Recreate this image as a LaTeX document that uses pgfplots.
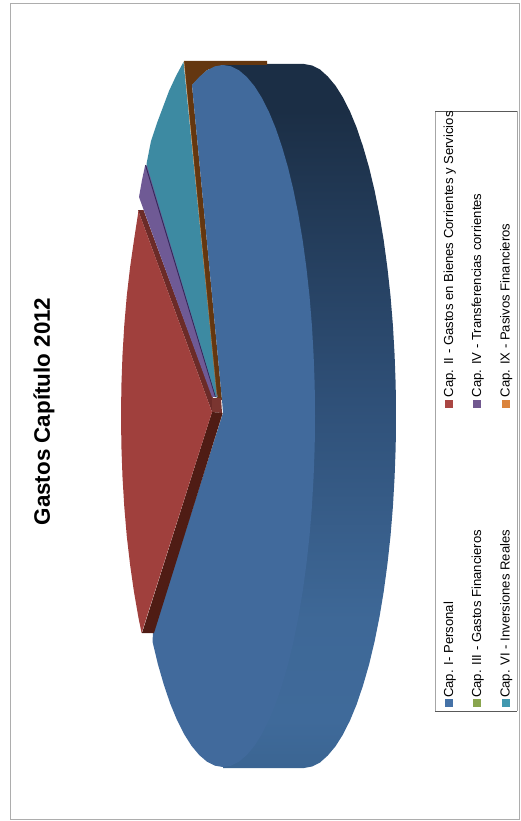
\documentclass[border=0pt]{standalone}
\usepackage{pgfplots}
\pgfplotsset{compat=1.18}
\usepackage{fontspec}
\setmainfont{Liberation Sans}
\definecolor{faceblue}{HTML}{416A9C}
\definecolor{facered}{HTML}{A0403D}
\definecolor{darkred}{HTML}{6B2B28}
\definecolor{darkerred}{HTML}{4F1C14}
\definecolor{blockred}{HTML}{7A3530}
\definecolor{facepurple}{HTML}{6F5A95}
\definecolor{darkpurple}{HTML}{33285A}
\definecolor{faceteal}{HTML}{3D8AA2}
\definecolor{brownside}{HTML}{643710}
\definecolor{thinorange}{HTML}{A5682B}
\definecolor{legblue}{HTML}{4572A7}
\definecolor{legred}{HTML}{AA4643}
\definecolor{leggreen}{HTML}{89A54E}
\definecolor{legpurple}{HTML}{71588F}
\definecolor{legteal}{HTML}{4198AF}
\definecolor{legorange}{HTML}{DB843D}
\definecolor{sidea}{HTML}{1B2E45}
\definecolor{sideb}{HTML}{2F5078}
\definecolor{sidec}{HTML}{3E6897}
\definecolor{sided}{HTML}{3F6A9A}
\definecolor{sidee}{HTML}{3B6592}
\pgfdeclareverticalshading{sideblue}{100bp}{color(0bp)=(sidee); color(25bp)=(sidee); color(28.4bp)=(sided); color(35.5bp)=(sidec); color(51.1bp)=(sideb); color(71.7bp)=(sidea); color(100bp)=(sidea)}
\begin{document}
\begin{tikzpicture}
\path[use as bounding box] (0,0) rectangle (521pt,821pt);
\begin{axis}[
    scale only axis,
    width=521pt,height=821pt,
    xmin=0,xmax=521,ymin=0,ymax=821,
    y dir=reverse,
    hide axis,
    clip=false
]
% outer frame
\addplot[draw=black!32,line width=0.9pt] coordinates {(10,3) (519,3) (519,819) (10,819) (10,3)};
% Cap. I side
\addplot[shading=sideblue,draw=none] coordinates {
(223,64) (304,64) (312,65.5) (320,69.5) (327.8,76.5) (335.5,85.7) (342.9,97.4) (350,111.5) (356.8,128)
(363.1,146.8) (369.1,167.6) (374.5,190.2) (379.4,214.6) (383.7,240.4) (387.4,267.7) (390.5,296) (392.9,325.2)
(394.6,355.1) (395.7,385.4) (396,416) (395.7,446.6) (394.6,476.9) (392.9,506.8) (390.5,536) (387.4,564.3)
(383.7,591.6) (379.4,617.4) (374.5,641.8) (369.1,664.4) (363.1,685.2) (356.8,704) (350,720.5) (342.9,734.6)
(335.5,746.3) (327.8,755.5) (320,762.5) (312,766.5) (304,768) (223,768)
};
% Cap. IX
\addplot[fill=brownside,draw=none] coordinates {
(184,61) (267,61) (267,65) (223,65) (207,70) (192,85) (222,400) (217,400)
};
% Cap. I top
\addplot[fill=faceblue,draw=none] coordinates {
(223,65) (231,66.3) (239,70.3) (246.8,77) (254.5,86.2) (261.9,97.9) (269,112) (275.8,128.5) (282.1,147.1)
(288.1,167.8) (293.5,190.4) (298.4,214.7) (302.7,240.5) (306.4,267.7) (309.5,296) (311.9,325.2) (313.6,355.1)
(314.7,385.4) (315,416) (314.7,446.6) (313.6,476.9) (311.9,506.8) (309.5,536) (306.4,564.3) (302.7,591.5)
(298.4,617.3) (293.5,641.6) (288.1,664.2) (282.1,684.9) (275.8,703.5) (269,720) (261.9,734.1) (254.5,745.8)
(246.8,755) (239,761.7) (231,765.7) (223,767) (215,765.7) (207,761.7) (199.2,755) (191.5,745.8) (184.1,734.1)
(177,720) (170.2,703.5) (163.9,684.9) (157.9,664.2) (152.5,641.6) (153,633) (223,413) (222,400) (192,85)
(199.2,77) (207,70.3) (215,66.3)
};
% Cap. IV
\addplot[fill=darkred,draw=none] coordinates {(138,210) (143.5,210) (213,398) (212,412)};
\addplot[fill=facepurple,draw=none] coordinates {(145,166) (142,180) (139,197) (212,397) (218,397) (150,164)};
\addplot[draw=darkpurple,line width=0.9pt] coordinates {(145.5,165) (215.5,397)};
% Cap. VI
\addplot[fill=faceteal,draw=none] coordinates {
(183.5,62) (176,76) (169,91) (163,107) (157,123) (151,141) (146.5,164) (216,397) (217,397)
};
\addplot[draw=thinorange,line width=0.35pt] coordinates {(184,61) (217,397)};
% Cap. II
\addplot[fill=blockred,draw=none] coordinates {(212,398) (221,398) (222,413) (212,412)};
\addplot[fill=darkerred,draw=none] coordinates {(212,412) (222.7,413) (154,633) (142,633)};
\addplot[fill=facered,draw=none] coordinates {
(141.6,633) (138.5,617.9) (134,592) (130.1,564.8) (126.8,536.4) (124.3,507.1) (122.5,477.1) (121.4,446.7)
(121,416) (121.4,385.3) (122.5,354.9) (124.3,324.9) (126.8,295.6) (130.1,267.2) (134,240) (138,214) (138,210)
(212,412)
};
% legend box
\addplot[fill=white,draw=none] coordinates {(435,111) (517,111) (517,711) (435,711)};
\addplot[draw=black!35,line width=0.8pt] coordinates {(435,111) (435,711)};
\addplot[draw=black!35,line width=0.8pt] coordinates {(517,111) (517,711)};
\addplot[draw=black!65,line width=0.8pt] coordinates {(435,111) (517,111)};
\addplot[draw=black!65,line width=0.8pt] coordinates {(435,711) (517,711)};
\addplot[only marks,mark=square*,mark size=3.5pt,mark options={draw=legblue,fill=legblue}] coordinates {(449,703)};
\addplot[only marks,mark=square*,mark size=3.5pt,mark options={draw=leggreen,fill=leggreen}] coordinates {(477,703)};
\addplot[only marks,mark=square*,mark size=3.5pt,mark options={draw=legteal,fill=legteal}] coordinates {(506,703)};
\addplot[only marks,mark=square*,mark size=3.5pt,mark options={draw=legred,fill=legred}] coordinates {(449,403.5)};
\addplot[only marks,mark=square*,mark size=3.5pt,mark options={draw=legpurple,fill=legpurple}] coordinates {(477,403.5)};
\addplot[only marks,mark=square*,mark size=3.5pt,mark options={draw=legorange,fill=legorange}] coordinates {(506,403.5)};
\tikzset{legtext/.style={rotate=90,anchor=base west,inner sep=0pt,font=\fontsize{13.1pt}{15pt}\selectfont}}
\node[legtext] at (axis cs:453,698) {Cap. I- Personal};
\node[legtext] at (axis cs:481,698) {Cap. III - Gastos Financieros};
\node[legtext] at (axis cs:509.5,698) {Cap. VI - Inversiones Reales};
\node[legtext] at (axis cs:453,397.5) {Cap. II - Gastos en Bienes Corrientes y Servicios};
\node[legtext] at (axis cs:481,397.5) {Cap. IV - Transferencias corrientes};
\node[legtext] at (axis cs:509.5,397.5) {Cap. IX - Pasivos Financieros};
\node[rotate=90,anchor=base,inner sep=0pt,font=\fontsize{22.4pt}{26pt}\selectfont\bfseries] at (axis cs:50,411.5) {Gastos Capítulo 2012};
\end{axis}
\end{tikzpicture}
\end{document}
